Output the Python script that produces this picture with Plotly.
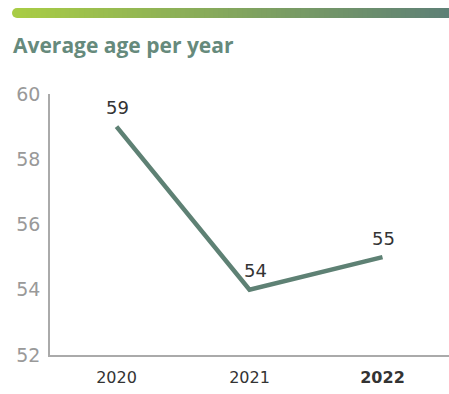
import plotly.graph_objects as go

years = ["2020", "2021", "2022"]
avg_age = [59, 54, 55]
tick_labels = ["2020", "2021", "<b>2022</b>"]
y_ticks = [52, 54, 56, 58, 60]

L, R, T, B, W, H = 50, 0, 94, 39, 449, 394
PW, PH = W - L - R, H - T - B

def px_x(px):
    return (px - L) / PW

def px_y(py):
    return 1 + (T - py) / PH

fig = go.Figure()
fig.add_trace(go.Scatter(
    x=years, y=avg_age, mode="lines",
    line=dict(color="#5e8174", width=4.5),
    hoverinfo="skip", showlegend=False,
))

# data labels: category axis positions are the category indices
annotations = [dict(x=i, y=v, text=str(v), xref="x", yref="y", showarrow=False,
                    yanchor="middle", xanchor="center", yshift=19, xshift=(6 if i == 1 else 1),
                    font=dict(family="DejaVu Sans", size=18, color="#333333"))
               for i, v in enumerate(avg_age)]

# gradient bar at top
def lerp(a, b, t):
    return int(round(a + (b - a) * t))
c0 = (0xa8, 0xcc, 0x45)
c1 = (0x5e, 0x80, 0x76)
n = 90
xs, xe = 17, 449
shapes = [dict(type="circle", xref="paper", yref="paper",
               x0=px_x(12), x1=px_x(22), y0=px_y(18), y1=px_y(8),
               fillcolor="rgb(%d,%d,%d)" % c0, line=dict(width=0), layer="above")]
for i in range(n):
    t = i / (n - 1)
    col = "rgb(%d,%d,%d)" % (lerp(c0[0], c1[0], t), lerp(c0[1], c1[1], t), lerp(c0[2], c1[2], t))
    xa = xs + (xe - xs) * i / n
    xb = xs + (xe - xs) * (i + 1) / n + 0.8
    shapes.append(dict(type="rect", xref="paper", yref="paper", x0=px_x(xa), x1=px_x(min(xb, xe)),
                       y0=px_y(18), y1=px_y(8),
                       fillcolor=col, line=dict(width=0), layer="above"))

annotations.append(dict(text="<b>Average age per year</b>", xref="paper", yref="paper",
                        x=px_x(11), y=px_y(45), xanchor="left", yanchor="middle",
                        showarrow=False, font=dict(family="Open Sans", size=21, color="#668a7c")))

fig.update_layout(
    width=W, height=H,
    margin=dict(l=L, r=R, t=T, b=B, autoexpand=False),
    paper_bgcolor="white", plot_bgcolor="white",
    shapes=shapes,
    annotations=annotations,
    xaxis=dict(type="category", range=[-0.5, 2.5], tickvals=years, ticktext=tick_labels,
               showgrid=False, showline=True, linecolor="#aaaaaa", linewidth=1.5,
               ticks="", automargin=False, ticklabelstandoff=7,
               tickfont=dict(family="DejaVu Sans", size=16, color="#333333"), fixedrange=True),
    yaxis=dict(range=[52, 60], tickvals=y_ticks, showgrid=False, zeroline=False,
               showline=True, linecolor="#aaaaaa", linewidth=1.5, ticks="",
               ticklabelstandoff=4, automargin=False,
               tickfont=dict(family="DejaVu Sans", size=19, color="#999999"), fixedrange=True),
)
fig.write_html("out.html", config={"displayModeBar": False},
               post_script="document.body.style.margin='0';document.body.style.overflow='hidden';")
